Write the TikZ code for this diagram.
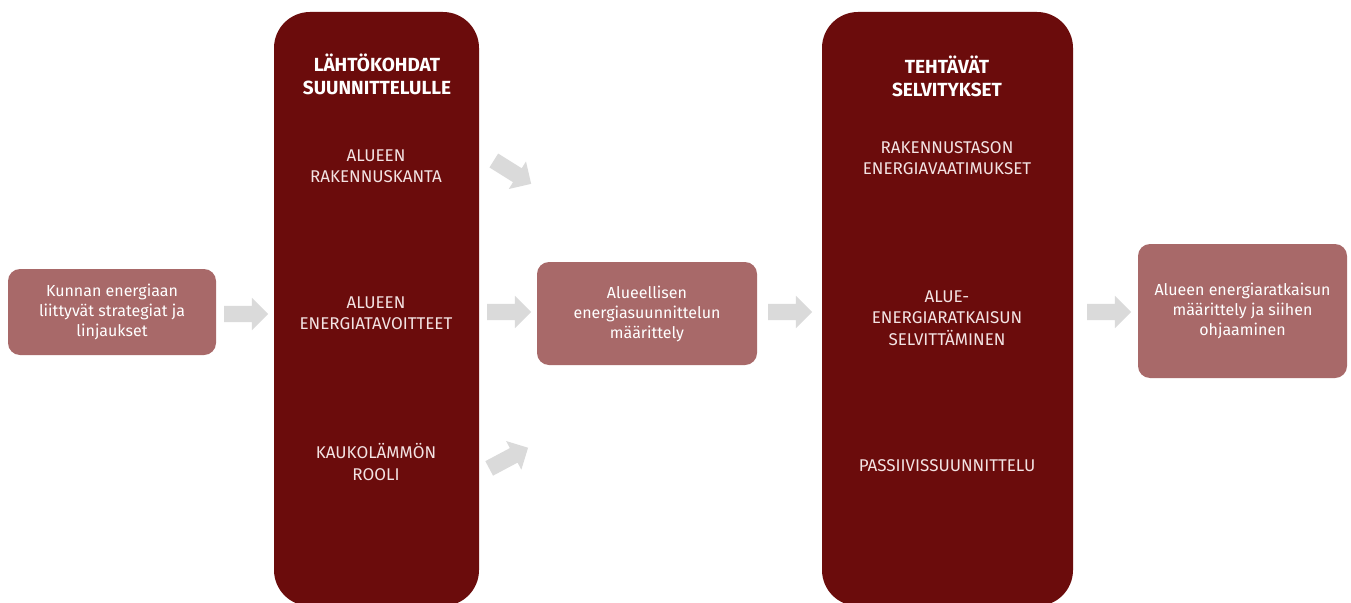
\documentclass[tikz,border=0pt]{standalone}
\usepackage{fontspec}
\setmainfont{Fira Sans}
\usetikzlibrary{shapes.arrows}
\definecolor{darkbox}{HTML}{6B0C0C}
\definecolor{lightbox}{HTML}{A86969}
\definecolor{arrowgray}{HTML}{DADADA}
\definecolor{captext}{HTML}{F3E3E3}
\tikzset{
  x=1pt,y=-1pt,
  bigbox/.style={fill=darkbox,draw=none,rounded corners=36pt},
  smallbox/.style={fill=lightbox,draw=none,rounded corners=12pt,inner sep=0pt,align=center,text=white,font=\fontsize{16}{20}\selectfont},
  title/.style={align=center,text=white,font=\fontsize{19}{23}\selectfont\bfseries},
  item/.style={align=center,text=captext,font=\fontsize{17}{21.5}\selectfont},
  blockarrow/.style={single arrow,fill=arrowgray,draw=none,inner xsep=0pt,inner ysep=8pt,minimum height=44pt,single arrow head extend=8pt,single arrow tip angle=90},
}
\begin{document}
\begin{tikzpicture}
\useasboundingbox[fill=white] (0,0) rectangle (1351,602);
% big columns
\begin{scope}
\clip (0,0) rectangle (1351,602);
\fill[bigbox] (274,12) rectangle (479,606);
\fill[bigbox] (822,12) rectangle (1073,606);
\end{scope}
\node[title] (t1) at (377,74) {LÄHTÖKOHDAT\\SUUNNITTELULLE};
\node[item] (a1) at (376,166) {ALUEEN\\RAKENNUSKANTA};
\node[item] (a2) at (376,313) {ALUEEN\\ENERGIATAVOITTEET};
\node[item] (a3) at (376,462) {KAUKOLÄMMÖN\\ROOLI};
\node[title] (t2) at (947,76) {TEHTÄVÄT\\SELVITYKSET};
\node[item] (b1) at (947,158) {RAKENNUSTASON\\ENERGIAVAATIMUKSET};
\node[item] (b2) at (947,318) {ALUE-\\ENERGIARATKAISUN\\SELVITTÄMINEN};
\node[item] (b3) at (947,466) {PASSIIVISSUUNNITTELU};
% small boxes
\node[smallbox,minimum width=208pt,minimum height=86pt] (s1) at (112,312) {Kunnan energiaan\\liittyvät strategiat ja\\linjaukset};
\node[smallbox,minimum width=220pt,minimum height=103pt] (s2) at (647,313.5) {Alueellisen\\energiasuunnittelun\\määrittely};
\node[smallbox,minimum width=209pt,minimum height=134pt] (s3) at (1242.5,311) {Alueen energiaratkaisun\\määrittely ja siihen\\ohjaaminen};
% arrows
\node[blockarrow] (r1) at (242,314) {};
\node[blockarrow] (r2) at (505,312) {};
\node[blockarrow] (r3) at (786,312) {};
\node[blockarrow] (r4) at (1105,312) {};
\node[blockarrow,rotate=-32] (r5) at (509,170) {};
\node[blockarrow,rotate=28] (r6) at (505,460) {};
\end{tikzpicture}
\end{document}
